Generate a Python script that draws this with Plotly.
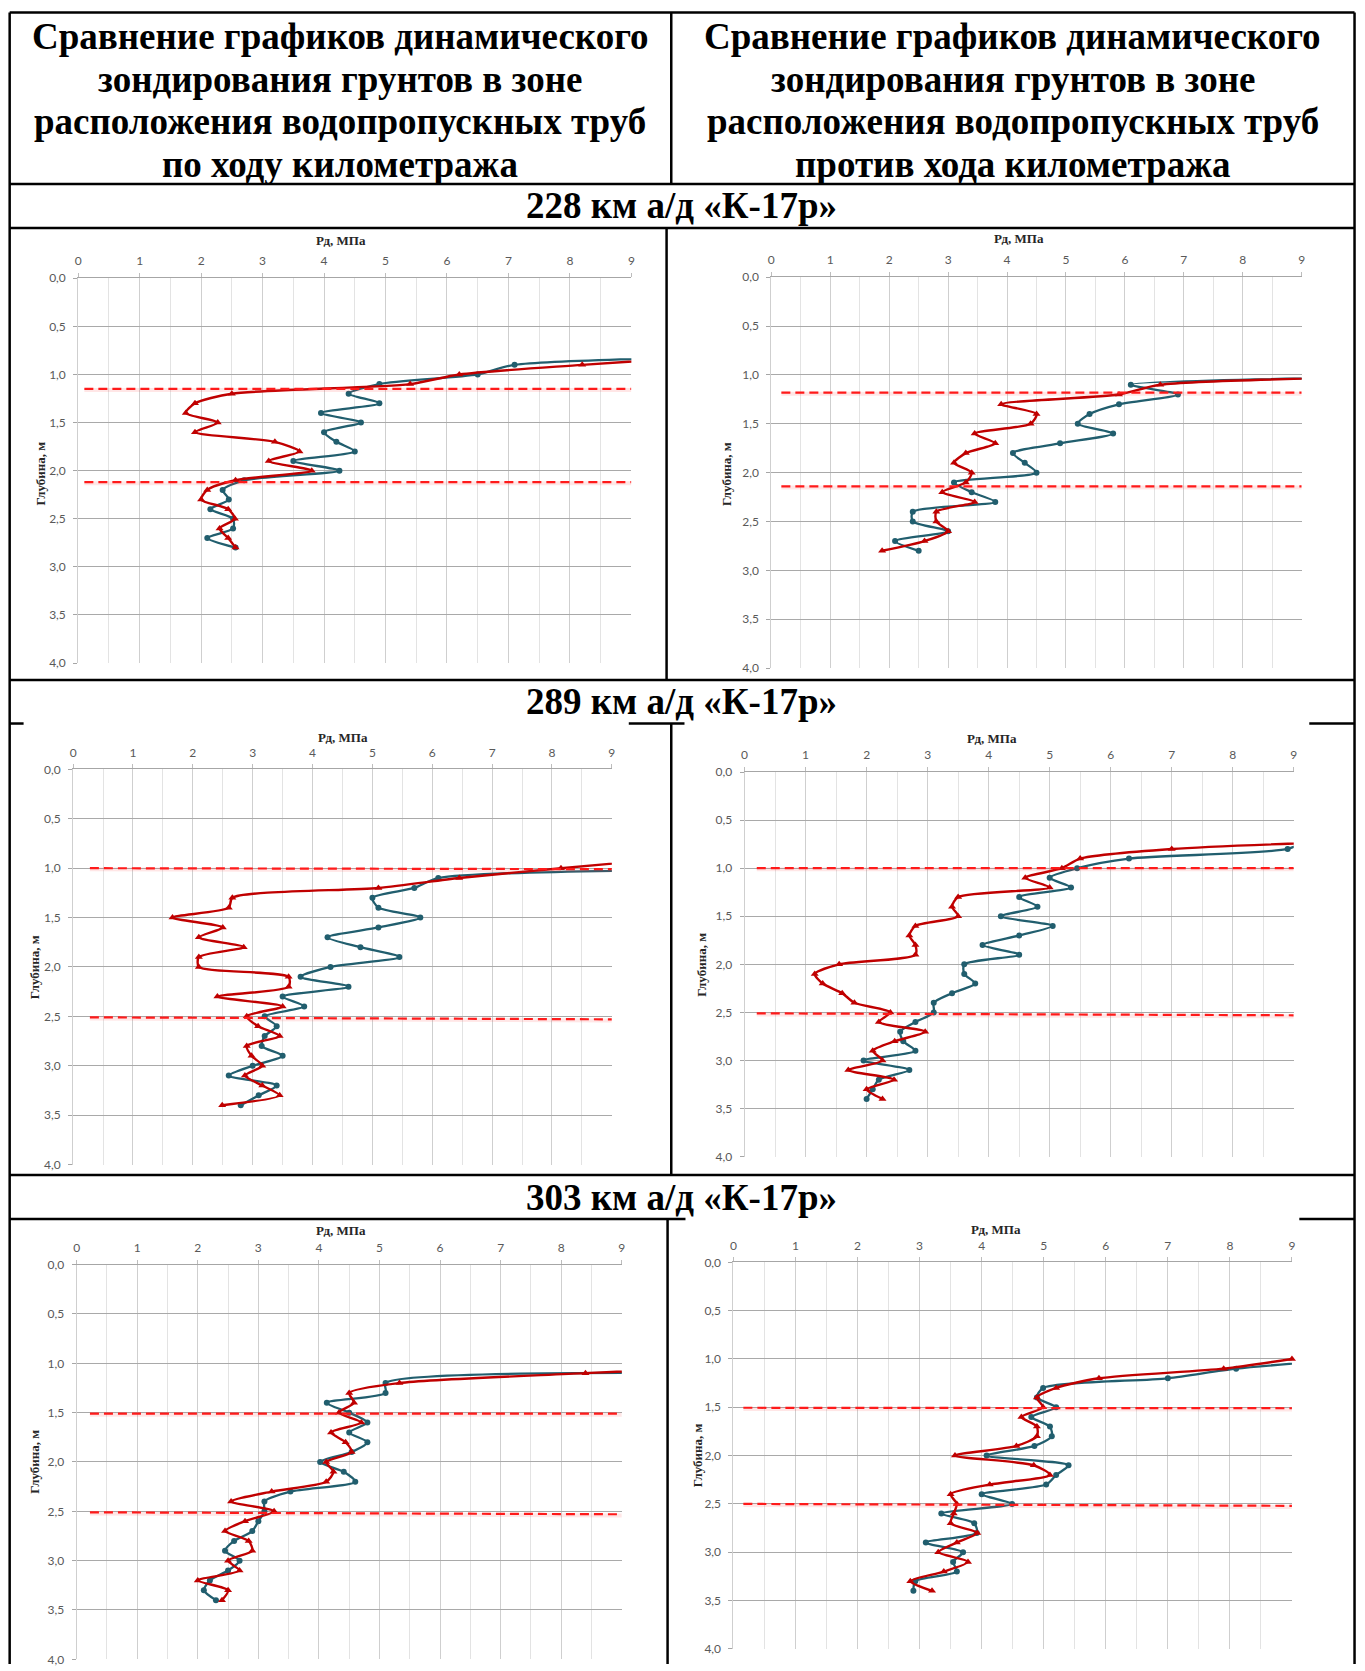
import plotly.graph_objects as go

W, H = 1365, 1671

# ---------------- DATA (depth, m ; Pd, MPa) ----------------
# 228 km, along the kilometre direction (left column)
K228_L_BLUE_DEPTH = [0.8, 0.9, 1.0, 1.1, 1.2, 1.3, 1.4, 1.5, 1.6, 1.7, 1.8, 1.9, 2.0, 2.1, 2.2, 2.3, 2.4, 2.5, 2.6, 2.7, 2.8]
K228_L_BLUE_PD = [12.0, 7.1, 6.5, 4.9, 4.4, 4.9, 3.95, 4.6, 4.0, 4.2, 4.5, 3.5, 4.25, 2.7, 2.35, 2.45, 2.15, 2.52, 2.52, 2.1, 2.56]
K228_L_RED_DEPTH = [0.8, 0.9, 1.0, 1.1, 1.2, 1.3, 1.4, 1.5, 1.6, 1.7, 1.8, 1.9, 2.0, 2.1, 2.2, 2.3, 2.4, 2.5, 2.6, 2.7, 2.8]
K228_L_RED_PD = [10.5, 8.2, 6.2, 5.4, 2.5, 1.9, 1.75, 2.27, 1.9, 3.2, 3.6, 3.1, 3.8, 2.56, 2.1, 2.0, 2.44, 2.55, 2.3, 2.44, 2.56]
K228_L_BOUNDS = [(1.15, 1.15), (2.12, 2.12)]

# 228 km, against the kilometre direction (right column)
K228_R_BLUE_DEPTH = [1.0, 1.1, 1.2, 1.3, 1.4, 1.5, 1.6, 1.7, 1.8, 1.9, 2.0, 2.1, 2.2, 2.3, 2.4, 2.5, 2.6, 2.7, 2.8]
K228_R_BLUE_PD = [14.0, 6.1, 6.9, 5.9, 5.4, 5.2, 5.8, 4.9, 4.1, 4.3, 4.5, 3.1, 3.4, 3.8, 2.4, 2.4, 3.0, 2.1, 2.5]
K228_R_RED_DEPTH = [1.0, 1.1, 1.2, 1.3, 1.4, 1.5, 1.6, 1.7, 1.8, 1.9, 2.0, 2.1, 2.2, 2.3, 2.4, 2.5, 2.6, 2.7, 2.8]
K228_R_RED_PD = [12.4, 6.6, 5.9, 3.9, 4.5, 4.4, 3.45, 3.8, 3.3, 3.1, 3.4, 3.3, 2.9, 3.45, 2.8, 2.8, 3.0, 2.6, 1.88]
K228_R_BOUNDS = [(1.18, 1.18), (2.14, 2.14)]

# 289 km, left
K289_L_BLUE_DEPTH = [1.0, 1.1, 1.2, 1.3, 1.4, 1.5, 1.6, 1.7, 1.8, 1.9, 2.0, 2.1, 2.2, 2.3, 2.4, 2.5, 2.6, 2.7, 2.8, 2.9, 3.0, 3.1, 3.2, 3.3, 3.4]
K289_L_BLUE_PD = [16.0, 6.1, 5.7, 5.0, 5.1, 5.8, 5.1, 4.25, 4.8, 5.45, 4.3, 3.8, 4.6, 3.5, 3.86, 3.2, 3.4, 3.2, 3.15, 3.5, 3.0, 2.6, 3.4, 3.1, 2.8]
K289_L_RED_DEPTH = [0.9, 1.0, 1.1, 1.2, 1.3, 1.4, 1.5, 1.6, 1.7, 1.8, 1.9, 2.0, 2.1, 2.2, 2.3, 2.4, 2.5, 2.6, 2.7, 2.8, 2.9, 3.0, 3.1, 3.2, 3.3, 3.4]
K289_L_RED_PD = [10.0, 8.15, 6.45, 5.1, 2.66, 2.6, 1.66, 2.5, 2.1, 2.85, 2.1, 2.1, 3.6, 3.6, 2.41, 3.5, 2.9, 3.09, 3.45, 2.9, 2.98, 3.16, 2.87, 3.16, 3.45, 2.49]
K289_L_BOUNDS = [(1.0, 1.01), (2.51, 2.53)]

# 289 km, right
K289_R_BLUE_DEPTH = [0.7, 0.8, 0.9, 1.0, 1.1, 1.2, 1.3, 1.4, 1.5, 1.6, 1.7, 1.8, 1.9, 2.0, 2.1, 2.2, 2.3, 2.4, 2.5, 2.6, 2.7, 2.8, 2.9, 3.0, 3.1, 3.2, 3.3, 3.4]
K289_R_BLUE_PD = [9.25, 8.9, 6.3, 5.45, 5.0, 5.35, 4.5, 4.8, 4.2, 5.05, 4.5, 3.9, 4.5, 3.6, 3.6, 3.78, 3.4, 3.1, 3.1, 2.8, 2.55, 2.6, 2.8, 1.95, 2.7, 2.2, 2.1, 2.0]
K289_R_RED_DEPTH = [0.7, 0.8, 0.9, 1.0, 1.1, 1.2, 1.3, 1.4, 1.5, 1.6, 1.7, 1.8, 1.9, 2.0, 2.1, 2.2, 2.3, 2.4, 2.5, 2.6, 2.7, 2.8, 2.9, 3.0, 3.1, 3.2, 3.3, 3.4]
K289_R_RED_PD = [11.0, 7.0, 5.5, 5.2, 4.6, 5.0, 3.5, 3.4, 3.5, 2.8, 2.7, 2.8, 2.8, 1.55, 1.15, 1.28, 1.6, 1.8, 2.39, 2.2, 2.96, 2.46, 2.1, 2.26, 1.7, 2.45, 2.0, 2.26]
K289_R_BOUNDS = [(1.0, 1.0), (2.51, 2.53)]

# 303 km, left
K303_L_BLUE_DEPTH = [1.1, 1.2, 1.3, 1.4, 1.5, 1.6, 1.7, 1.8, 1.9, 2.0, 2.1, 2.2, 2.3, 2.4, 2.5, 2.6, 2.7, 2.8, 2.9, 3.0, 3.1, 3.2, 3.3, 3.4]
K303_L_BLUE_PD = [10.4, 5.1, 5.1, 4.13, 4.5, 4.8, 4.5, 4.8, 4.54, 4.02, 4.41, 4.6, 3.53, 3.1, 3.1, 3.0, 2.9, 2.6, 2.45, 2.69, 2.5, 2.2, 2.1, 2.3]
K303_L_RED_DEPTH = [1.0, 1.1, 1.2, 1.3, 1.4, 1.5, 1.6, 1.7, 1.8, 1.9, 2.0, 2.1, 2.2, 2.3, 2.4, 2.5, 2.6, 2.7, 2.8, 2.9, 3.0, 3.1, 3.2, 3.3, 3.4]
K303_L_RED_PD = [12.0, 8.4, 5.33, 4.5, 4.58, 4.33, 4.7, 4.2, 4.44, 4.54, 4.12, 4.24, 4.12, 3.22, 2.55, 3.26, 2.78, 2.45, 2.84, 2.9, 2.5, 2.69, 2.0, 2.5, 2.4]
K303_L_BOUNDS = [(1.51, 1.51), (2.51, 2.53)]

# 303 km, right
K303_R_BLUE_DEPTH = [1.0, 1.1, 1.2, 1.3, 1.4, 1.5, 1.6, 1.7, 1.8, 1.9, 2.0, 2.1, 2.2, 2.3, 2.4, 2.5, 2.6, 2.7, 2.8, 2.9, 3.0, 3.1, 3.2, 3.3, 3.4]
K303_R_BLUE_PD = [10.0, 8.1, 7.0, 4.99, 4.89, 5.2, 4.8, 5.1, 5.13, 4.85, 4.08, 5.4, 5.2, 5.04, 4.0, 4.49, 3.35, 3.88, 3.92, 3.1, 3.7, 3.54, 3.6, 2.93, 2.9]
K303_R_RED_DEPTH = [1.0, 1.1, 1.2, 1.3, 1.4, 1.5, 1.6, 1.7, 1.8, 1.9, 2.0, 2.1, 2.2, 2.3, 2.4, 2.5, 2.6, 2.7, 2.8, 2.9, 3.0, 3.1, 3.2, 3.3, 3.4]
K303_R_RED_PD = [9.0, 7.9, 5.89, 5.2, 4.89, 4.99, 4.64, 4.89, 4.89, 4.56, 3.57, 4.84, 5.1, 4.13, 3.5, 3.6, 3.55, 3.5, 3.93, 3.6, 3.3, 3.78, 3.39, 2.85, 3.2]
K303_R_BOUNDS = [(1.505, 1.51), (2.50, 2.52)]

X_TICKS = [0, 1, 2, 3, 4, 5, 6, 7, 8, 9]
Y_TICKS = [0.0, 0.5, 1.0, 1.5, 2.0, 2.5, 3.0, 3.5, 4.0]
Y_TICK_TEXT = ["0,0", "0,5", "1,0", "1,5", "2,0", "2,5", "3,0", "3,5", "4,0"]

HEADER_LEFT = ["Сравнение графиков динамического", "зондирования грунтов в зоне",
               "расположения водопропускных труб", "по ходу километража"]
HEADER_RIGHT = ["Сравнение графиков динамического", "зондирования грунтов в зоне",
                "расположения водопропускных труб", "против хода километража"]
ROW_TITLES = ["228 км а/д «К-17р»", "289 км а/д «К-17р»", "303 км а/д «К-17р»"]
X_TITLE = "Рд, МПа"
Y_TITLE = "Глубина, м"

# ---------------- LAYOUT (pixel geometry) ----------------
CHARTS = [
    dict(blue=(K228_L_BLUE_DEPTH, K228_L_BLUE_PD), red=(K228_L_RED_DEPTH, K228_L_RED_PD), bounds=K228_L_BOUNDS,
         box=(75.6, 631.6, 272.7, 661.0), xt=(340, 235), yt=(38, 470), dx0=0.1),
    dict(blue=(K228_R_BLUE_DEPTH, K228_R_BLUE_PD), red=(K228_R_RED_DEPTH, K228_R_RED_PD), bounds=K228_R_BOUNDS,
         box=(772.3, 1305.4, 271.7, 666.0), xt=(1021, 233), yt=(728, 470), dx0=0.17),
    dict(blue=(K289_L_BLUE_DEPTH, K289_L_BLUE_PD), red=(K289_L_RED_DEPTH, K289_L_RED_PD), bounds=K289_L_BOUNDS,
         box=(70.5, 612.0, 768.3, 1167.0), xt=(342, 736), yt=(31, 968), dx0=0.28),
    dict(blue=(K289_R_BLUE_DEPTH, K289_R_BLUE_PD), red=(K289_R_RED_DEPTH, K289_R_RED_PD), bounds=K289_R_BOUNDS,
         box=(745.4, 1297.4, 771.0, 1159.0), xt=(994, 737), yt=(702, 965), dx0=0.2),
    dict(blue=(K303_L_BLUE_DEPTH, K303_L_BLUE_PD), red=(K303_L_RED_DEPTH, K303_L_RED_PD), bounds=K303_L_BOUNDS,
         box=(74.0, 622.0, 1268.0, 1666.3), xt=(340, 1234), yt=(32, 1467), dx0=0.22),
    dict(blue=(K303_R_BLUE_DEPTH, K303_R_BLUE_PD), red=(K303_R_RED_DEPTH, K303_R_RED_PD), bounds=K303_R_BOUNDS,
         box=(734.2, 1295.6, 1265.7, 1655.7), xt=(998, 1233), yt=(698, 1460), dx0=0.16),
]

BLUE = "#215E6E"
RED = "#C00000"
DASH_RED = "#FF1A1A"


def px_x(v):
    return v / W


def px_y(v):
    return 1 - v / H


fig = go.Figure()
layout = dict(width=W, height=H, margin=dict(l=0, r=0, t=0, b=0),
              paper_bgcolor="white", plot_bgcolor="white", showlegend=False)
shapes = []
annotations = []

for i, c in enumerate(CHARTS, start=1):
    sfx = "" if i == 1 else str(i)
    x0, x9, y0, y4 = c["box"]
    layout["xaxis" + sfx] = dict(
        domain=[px_x(x0), px_x(x9)], anchor="y" + sfx, side="top", range=[0, 9],
        tickvals=X_TICKS, ticks="outside", ticklen=4, tickcolor="#BDBDBD",
        ticklabelstandoff=3,
        showgrid=True, gridcolor="#CFCFCF", gridwidth=1,
        minor=dict(dtick=0.5, showgrid=True, gridcolor="#E3E3E3", ticks=""),
        showline=True, linecolor="#A6A6A6", linewidth=1, zeroline=False,
        tickfont=dict(family="Lato", size=12, color="#595959"), fixedrange=True)
    layout["yaxis" + sfx] = dict(
        domain=[px_y(y4), px_y(y0)], anchor="x" + sfx, range=[4, 0],
        tickvals=Y_TICKS, ticktext=Y_TICK_TEXT, ticks="outside", ticklen=4, tickcolor="#A6A6A6",
        ticklabelstandoff=5,
        showgrid=True, gridcolor="#A9A9A9", gridwidth=1,
        showline=True, linecolor="#CFCFCF", linewidth=1, zeroline=False,
        tickfont=dict(family="Lato", size=12, color="#595959"), fixedrange=True)

    xa, ya = "x" + sfx, "y" + sfx
    bd, bp = c["blue"]
    rd, rp = c["red"]
    fig.add_trace(go.Scatter(x=bp, y=bd, xaxis=xa, yaxis=ya, mode="lines+markers",
                             line=dict(color=BLUE, width=2.3, shape="spline", smoothing=0.7),
                             marker=dict(symbol="circle", size=6, color=BLUE)))
    fig.add_trace(go.Scatter(x=rp, y=rd, xaxis=xa, yaxis=ya, mode="lines+markers",
                             line=dict(color=RED, width=2.4, shape="spline", smoothing=0.7),
                             marker=dict(symbol="triangle-up", size=7, color=RED),
                             cliponaxis=(i != 6)))

    for (dl, dr) in c["bounds"]:
        shapes.append(dict(type="line", xref=xa, yref=ya, x0=c["dx0"], x1=9, y0=dl + 0.012, y1=dr + 0.012,
                           line=dict(color="rgba(255,60,60,0.13)", width=4)))
        shapes.append(dict(type="line", xref=xa, yref=ya, x0=c["dx0"], x1=9, y0=dl, y1=dr,
                           line=dict(color=DASH_RED, width=2.2, dash="9px,5px")))

    annotations.append(dict(x=px_x(c["xt"][0]), y=px_y(c["xt"][1]), xref="paper", yref="paper",
                            text="<b>" + X_TITLE + "</b>", showarrow=False, xanchor="center", yanchor="middle",
                            font=dict(family="Liberation Serif", size=13, color="#262626")))
    annotations.append(dict(x=px_x(c["yt"][0]), y=px_y(c["yt"][1]), xref="paper", yref="paper",
                            text="<b>" + Y_TITLE + "</b>", showarrow=False, xanchor="center", yanchor="middle",
                            textangle=-90,
                            font=dict(family="Liberation Serif", size=13, color="#262626")))

# ---------------- table frame ----------------
def hline(y, xa_, xb_):
    shapes.append(dict(type="line", xref="paper", yref="paper", x0=px_x(xa_), x1=px_x(xb_),
                       y0=px_y(y), y1=px_y(y), line=dict(color="black", width=2.5)))


def vline(x, ya_, yb_):
    shapes.append(dict(type="line", xref="paper", yref="paper", x0=px_x(x), x1=px_x(x),
                       y0=px_y(ya_), y1=px_y(yb_), line=dict(color="black", width=2.5)))


LEFT, RIGHT = 6.7, 1358.5
hline(4.5, LEFT, RIGHT)
vline(LEFT, 4.5, H)
vline(RIGHT, 4.5, H)
vline(671.7, 4.5, 177.7)
hline(177.7, LEFT, RIGHT)
hline(222.0, LEFT, RIGHT)
vline(667.0, 222.0, 678.0)
hline(678.0, LEFT, RIGHT)
hline(722.0, LEFT, 20.7)
hline(722.0, 629.0, 685.0)
hline(722.0, 1313.0, RIGHT)
vline(671.7, 722.0, 1177.5)
hline(1177.5, LEFT, RIGHT)
hline(1222.0, LEFT, 686.0)
hline(1222.0, 1303.0, RIGHT)
vline(668.0, 1222.0, H)

HEADER_FONT = dict(family="Liberation Serif", size=37, color="black")
HEADER_LINE_Y = [29.0, 72.5, 115.0, 157.7]
for lines, xc in ((HEADER_LEFT, 339), (HEADER_RIGHT, 1015)):
    for t, yc in zip(lines, HEADER_LINE_Y):
        annotations.append(dict(x=px_x(xc), y=px_y(yc), xref="paper", yref="paper",
                                text="<b>" + t + "</b>", showarrow=False,
                                xanchor="center", yanchor="middle", font=HEADER_FONT))
for t, yc in zip(ROW_TITLES, [199.5, 700.0, 1200.0]):
    annotations.append(dict(x=px_x(682), y=px_y(yc), xref="paper", yref="paper",
                            text="<b>" + t + "</b>", showarrow=False,
                            xanchor="center", yanchor="middle", font=HEADER_FONT))

layout["shapes"] = shapes
layout["annotations"] = annotations
fig.update_layout(**layout)

PAGE_FIX = ("document.documentElement.style.margin='0';document.body.style.margin='0';"
            "document.body.style.padding='0';document.documentElement.style.overflow='hidden';"
            "var d=document.getElementById('{plot_id}');"
            "d.style.position='fixed';d.style.left='0px';d.style.top='0px';")
fig.write_html("out.html", config={"displayModeBar": False}, post_script=PAGE_FIX)
